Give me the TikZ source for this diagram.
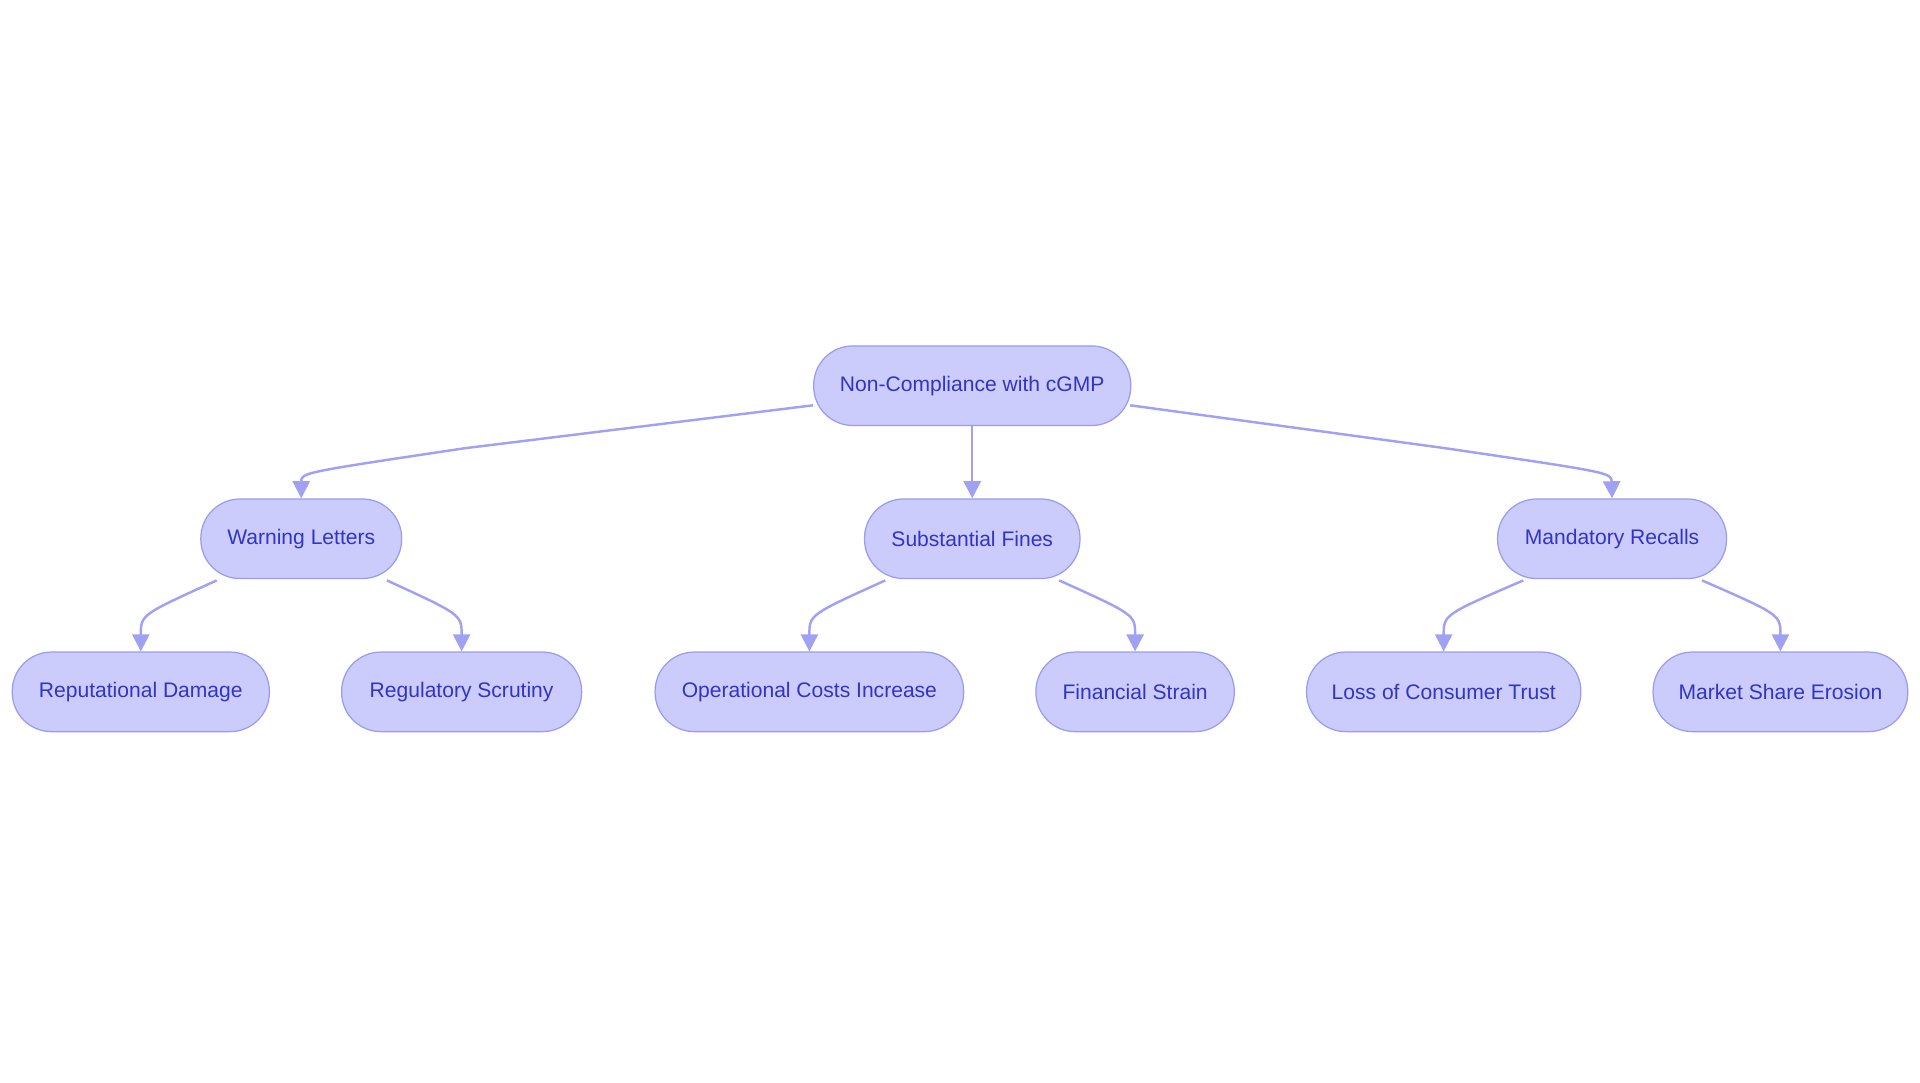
\documentclass[tikz,border=0pt]{standalone}
\usepackage{fontspec}
\setmainfont{Liberation Sans}
\usetikzlibrary{arrows.meta,calc}
\definecolor{nfill}{HTML}{CBCCFC}
\definecolor{nline}{HTML}{9A9BF0}
\definecolor{ntext}{HTML}{3333C4}
\definecolor{eline}{HTML}{A0A1F2}
\begin{document}
\begin{tikzpicture}[x=0.5pt,y=-0.5pt,
  box/.style={draw=nline,fill=nfill,text=ntext,rounded corners=16pt,minimum height=32.5pt,inner sep=0pt,font=\fontsize{8.6}{10}\selectfont,line width=0.5pt},
  conn/.style={draw=eline,line width=1pt,-{Triangle[length=7pt,width=7pt]}}]
\useasboundingbox (0,0) rectangle (1568,884);
\node[box,minimum width=129.5pt] (root) at (794,315) {Non-Compliance with cGMP};
\node[box,minimum width=82pt] (wl) at (246,440) {Warning Letters};
\node[box,minimum width=88pt] (sf) at (794,440) {Substantial Fines};
\node[box,minimum width=93.5pt] (mr) at (1316.5,440) {Mandatory Recalls};
\node[box,minimum width=105pt] (rd) at (115,565) {Reputational Damage};
\node[box,minimum width=98pt] (rs) at (377,565) {Regulatory Scrutiny};
\node[box,minimum width=126pt] (oc) at (661,565) {Operational Costs Increase};
\node[box,minimum width=81pt] (fs) at (927,565) {Financial Strain};
\node[box,minimum width=112pt] (lc) at (1179,565) {Loss of Consumer Trust};
\node[box,minimum width=104pt] (ms) at (1454,565) {Market Share Erosion};
\coordinate (r1) at (664,331);
\coordinate (r2) at (923,331);
\draw[conn] (r1) -- (380,366) .. controls (246,386) .. (wl.north);
\draw[conn] (r2) -- (1180,366) .. controls (1316,386) .. (mr.north);
\draw[conn] (root.south) -- (sf.north);
\foreach \p/\c/\sx in {wl/rd/177, wl/rs/316, sf/oc/723, sf/fs/865, mr/lc/1244, mr/ms/1390}{
  \draw[conn] (\sx,474) .. controls ($(\c.north)+(0,-30)$) .. (\c.north);
}
\end{tikzpicture}
\end{document}
